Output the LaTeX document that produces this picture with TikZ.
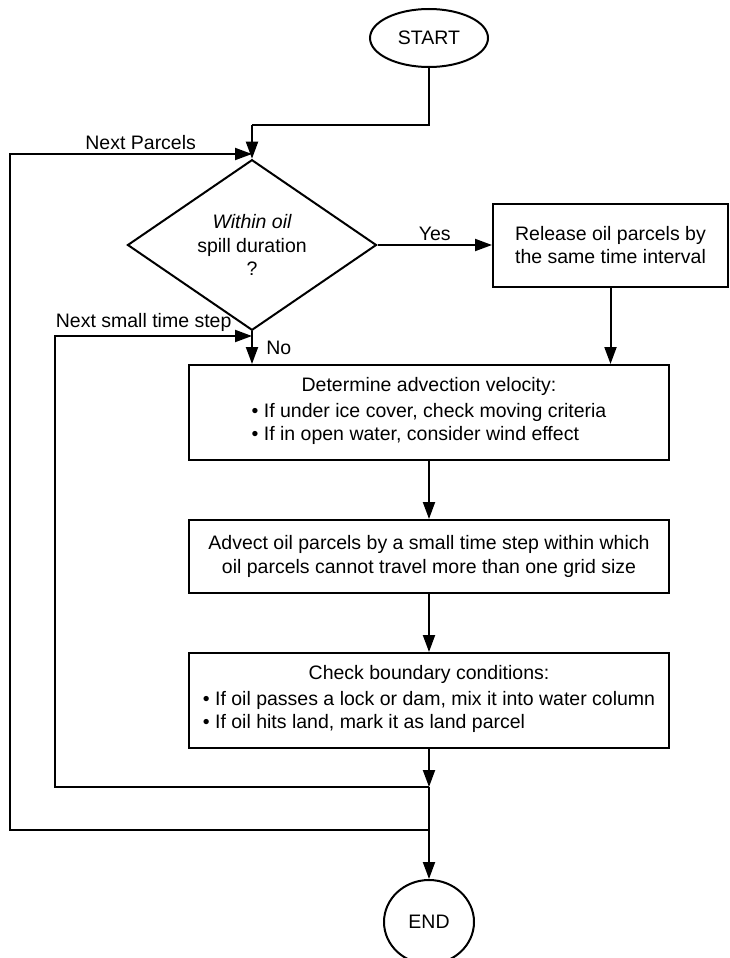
\documentclass[tikz,border=0pt]{standalone}
\usepackage{fontspec}
\setmainfont{Liberation Sans}
\usetikzlibrary{arrows.meta, shapes.geometric, positioning}

\begin{document}
\begin{tikzpicture}[x = 1pt, y = -1pt, > = {Triangle[length=17pt, width=12pt]}, line width = 2pt,
    font = \fontsize{19.5}{23.5}\selectfont, node distance = 58pt,
    terminal/.style = {draw, ellipse, inner sep = 0pt},
    process/.style = {draw, rectangle, inner sep = 0pt, align = center},
    decision/.style = {draw, diamond, inner sep = 0pt, align = center}]

\useasboundingbox (0,0) rectangle (730,958);

\node[terminal, minimum width = 118pt, minimum height = 58pt]	(start)	at (429,38)		{START};
\node[decision, minimum width = 249pt, minimum height = 124pt]	(dec)	at (252,245)	{{\itshape Within oil}\\spill duration\\?};
\node[process, minimum width = 235pt, minimum height = 83pt]	(rel)	at (610.5,245)	{Release oil parcels by\\the same time interval};
\node[process, minimum width = 480pt, minimum height = 95pt]	(det)	at (429,412.5)	{Determine advection velocity:\\[4pt]
	\begin{tabular}{@{}l@{}}\textbullet\ If under ice cover, check moving criteria\\ \textbullet\ If in open water, consider wind effect\end{tabular}};
\node[process, minimum width = 480pt, minimum height = 73pt]	(adv)	[below = of det]	{Advect oil parcels by a small time step within which\\oil parcels cannot travel more than one grid size};
\node[process, minimum width = 480pt, minimum height = 95pt]	(chk)	[below = of adv]	{Check boundary conditions:\\[4pt]
	\begin{tabular}{@{}l@{}}\textbullet\ If oil passes a lock or dam, mix it into water column\\ \textbullet\ If oil hits land, mark it as land parcel\end{tabular}};
\node[terminal, minimum width = 90pt, minimum height = 84pt]	(end)	[below = 130pt of chk]	{END};

% junctions and loop corners
\coordinate (j1) at (252,125);
\coordinate (np) at (252,154);
\coordinate (ns) at (252,336);
\coordinate (j2) at (429,787);
\coordinate (j3) at (429,830);
\coordinate (o1) at (10,830);
\coordinate (o2) at (10,154);
\coordinate (i1) at (55,787);
\coordinate (i2) at (55,336);

\draw		(start) |- (j1);
\draw[->]	(j1) -- (dec);
\path		(dec) edge[->]				node[above] {Yes}		(rel);
\draw[->]	(dec.south) -- node[right = 10pt] {No} (dec.south |- det.north);
\draw[->]	(rel) -- (rel |- det.north);
\path		(det) edge[->]									(adv);
\path		(adv) edge[->]									(chk);
\draw[->]	(chk) -- (j2);
\draw[->]	(j2) -- (end);

% loops back
\draw[->]	(j2) -- (i1) -- (i2) -- node[above, pos = 0.45] {Next small time step} (ns);
\draw[->]	(j3) -- (o1) -- (o2) -- node[above, pos = 0.54] {Next Parcels} (np);

\end{tikzpicture}
\end{document}
